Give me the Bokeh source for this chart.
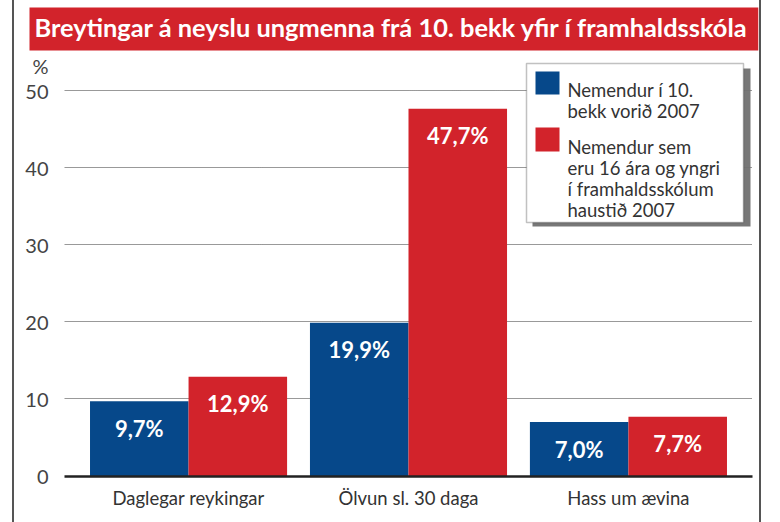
from bokeh.plotting import figure
from bokeh.models import (ColumnDataSource, FactorRange, Range1d, FixedTicker,
                          Label, BoxAnnotation)
from bokeh.transform import dodge
from bokeh.core.properties import value
from bokeh.embed import file_html
from bokeh.resources import INLINE

# ---- data ----
categories = ["Daglegar reykingar", "Ölvun sl. 30 daga", "Hass um ævina"]
grade10_spring2007 = [9.7, 19.9, 7.0]
hs16_autumn2007 = [12.9, 47.7, 7.7]
y_ticks = [0, 10, 20, 30, 40, 50]
unit_tick = 53.3
unit_label = "%"
title_text = "Breytingar á neyslu ungmenna frá 10. bekk yfir í framhaldsskóla"
legend_lines_a = ["Nemendur í 10.", "bekk vorið 2007"]
legend_lines_b = ["Nemendur sem", "eru 16 ára og yngri", "í framhaldsskólum", "haustið 2007"]

BLUE = "#06488a"
RED = "#d2232b"
FONT = "Lato"


def fmt(v):
    return f"{v:.1f}%".replace(".", ",")


src = ColumnDataSource(dict(
    cat=categories,
    a=grade10_spring2007,
    b=hs16_autumn2007,
    la=[fmt(v) for v in grade10_spring2007],
    lb=[fmt(v) for v in hs16_autumn2007],
))

p = figure(width=749, height=522,
           x_range=FactorRange(*categories, range_padding=0.064, range_padding_units="absolute"),
           y_range=Range1d(-0.065, 54.61),
           output_backend="svg", toolbar_location=None,
           min_border_left=50, min_border_right=11, min_border_top=55, min_border_bottom=46)
p.styles = {"margin-left": "12px", "border-left": "2px solid #555555",
            "border-right": "2px solid #555555"}
p.outline_line_color = None
p.background_fill_color = "white"
p.border_fill_color = "white"

# title banner
p.title.text = title_text
p.title.align = "left"
p.title.offset = -35
p.title.text_font = FONT
p.title.text_font_size = "25.4px"
p.title.text_font_style = "bold"
p.title.text_color = "white"
p.title.background_fill_color = RED
p.title.padding = (5, 10, 4, 9)
p.title.standoff = 10

p.xgrid.visible = False
p.ygrid.ticker = FixedTicker(ticks=y_ticks[1:])
p.ygrid.grid_line_dash = "1 1"
p.ygrid.grid_line_color = "#333333"
p.ygrid.grid_line_width = 1

ya = p.yaxis[0]
ya.ticker = FixedTicker(ticks=y_ticks + [unit_tick])
ya.major_label_overrides = {unit_tick: unit_label}
ya.axis_line_color = None
ya.major_tick_line_color = None
ya.minor_tick_line_color = None
ya.major_label_text_font = FONT
ya.major_label_text_font_size = "20px"
ya.major_label_text_color = "#444444"
ya.major_label_standoff = 10

xa = p.xaxis[0]
xa.axis_line_color = "#222222"
xa.axis_line_width = 2.5
xa.major_tick_line_color = None
xa.minor_tick_line_color = None
xa.major_label_text_font = FONT
xa.major_label_text_font_size = "18.5px"
xa.major_label_text_color = "#333333"
xa.major_label_standoff = 4

rb = p.vbar(x=dodge("cat", -0.224, range=p.x_range), top="a", width=0.448, source=src,
            fill_color=BLUE, line_color=None)
rr = p.vbar(x=dodge("cat", 0.224, range=p.x_range), top="b", width=0.448, source=src,
            fill_color=RED, line_color=None)

for ycol, tcol, off in (("a", "la", -0.224), ("b", "lb", 0.224)):
    p.text(x=dodge("cat", off, range=p.x_range), y=ycol, text=tcol, source=src,
           text_align="center", text_baseline="middle", y_offset=27,
           text_color="white", text_font=value(FONT), text_font_style="bold",
           text_font_size="22px")

# legend (screen units, relative to the plot frame's bottom-left corner)
def sbox(left, right, top, bottom, **kw):
    return BoxAnnotation(left=left, right=right, top=top, bottom=bottom,
                         left_units="screen", right_units="screen",
                         top_units="screen", bottom_units="screen", **kw)

p.add_layout(sbox(468, 686, 408, 250, fill_color="#707070", fill_alpha=0.95, line_color=None))
p.add_layout(sbox(462, 679, 413, 254, fill_color="white", fill_alpha=1,
                  line_color="#333333", line_width=1.5))
p.add_layout(sbox(471, 495, 405, 382, fill_color=BLUE, fill_alpha=1, line_color=None))
p.add_layout(sbox(471, 495, 349, 325, fill_color=RED, fill_alpha=1, line_color=None))

for lines, y0 in ((legend_lines_a, 387), (legend_lines_b, 330)):
    for i, line in enumerate(lines):
        p.add_layout(Label(x=503, y=y0 - 21 * i, x_units="screen", y_units="screen",
                           text=line, text_align="left", text_baseline="alphabetic",
                           text_font=FONT, text_font_size="18.5px", text_color="#333333"))

open("out.html", "w").write(file_html(p, INLINE))
